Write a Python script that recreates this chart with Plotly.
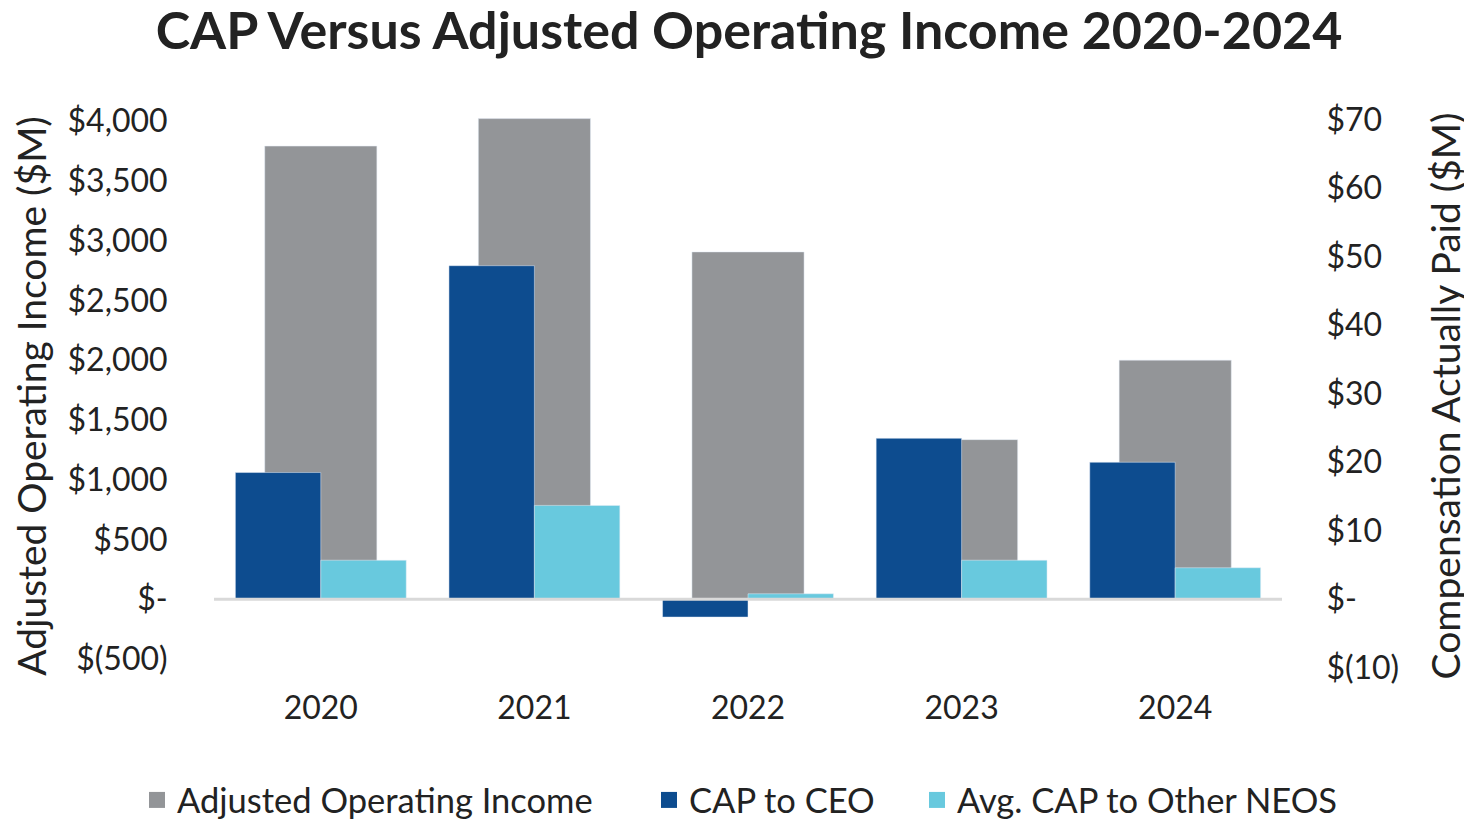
import plotly.graph_objects as go

years = ["2020", "2021", "2022", "2023", "2024"]
adj_operating_income = [3790, 4020, 2905, 1335, 2000]
cap_to_ceo = [18.5, 48.7, -2.6, 23.5, 20.0]
avg_cap_other_neos = [5.7, 13.7, 0.8, 5.7, 4.6]

left_tickvals = [-500, 0, 500, 1000, 1500, 2000, 2500, 3000, 3500, 4000]
left_ticktext = ["$(500)", "$-", "$500", "$1,000", "$1,500", "$2,000", "$2,500", "$3,000", "$3,500", "$4,000"]
right_tickvals = [-10, 0, 10, 20, 30, 40, 50, 60, 70]
right_ticktext = ["$(10)", "$-", "$10", "$20", "$30", "$40", "$50", "$60", "$70"]

GRAY = "#939598"
DARK = "#0D4C8F"
LIGHT = "#68C9DE"
FONT = "Lato"

W, H = 1464, 816  # page body has an 8px margin

fig = go.Figure()
fig.add_trace(go.Bar(x=years, y=adj_operating_income, name="Adjusted Operating Income",
                     marker_color=GRAY, width=0.525, offset=-0.2625, yaxis="y",
                     showlegend=False))
fig.add_trace(go.Bar(x=years, y=cap_to_ceo, name="CAP to CEO",
                     marker_color=DARK, width=0.4, offset=-0.4, yaxis="y2",
                     showlegend=False))
fig.add_trace(go.Bar(x=years, y=avg_cap_other_neos, name="Avg. CAP to Other NEOS",
                     marker_color=LIGHT, width=0.4, offset=0.0, yaxis="y2",
                     showlegend=False))

# legend entries, each in its own legend box
legend_items = [("Adjusted Operating Income", GRAY, "legend"),
                ("CAP to CEO", DARK, "legend2"),
                ("Avg. CAP to Other NEOS", LIGHT, "legend3")]
for name, col, lg in legend_items:
    fig.add_trace(go.Scatter(x=[None], y=[None], mode="markers", name=name,
                             marker=dict(symbol="square", size=20, color=col),
                             showlegend=True, yaxis="y", legend=lg))

fig.add_shape(type="line", xref="paper", yref="y", x0=0, x1=1, y0=0, y1=0,
              line=dict(color="#D9D9D9", width=3), layer="above")

def legend_box(xpx):
    return dict(orientation="h", xref="container", x=xpx / W, xanchor="left",
                yref="container", y=1 - 792 / H, yanchor="middle",
                font=dict(size=34.5, color="#222222"), itemsizing="trace",
                bgcolor="rgba(0,0,0,0)")

fig.update_layout(
    width=W, height=H,
    margin=dict(l=206, r=190, t=106.5, b=146.7, autoexpand=False),
    plot_bgcolor="white", paper_bgcolor="white",
    font=dict(family=FONT, size=32, color="#222222"),
    barmode="overlay",
    title=dict(text="<b>CAP Versus Adjusted Operating Income 2020-2024</b>",
               x=741 / W, xref="container", xanchor="center",
               y=1 - 23 / H, yanchor="middle", yref="container",
               font=dict(family=FONT, size=52, color="#222222")),
    xaxis=dict(type="category", range=[-0.5, 4.5], showline=False, showgrid=False,
               zeroline=False, ticks="outside", ticklen=3, tickcolor="rgba(0,0,0,0)",
               tickfont=dict(size=32), automargin=False),
    yaxis=dict(range=[-650, 4050], tickvals=left_tickvals, ticktext=left_ticktext,
               showgrid=False, zeroline=False, showline=False, automargin=False,
               ticks="outside", ticklen=39, tickcolor="rgba(0,0,0,0)",
               title=dict(text="Adjusted Operating Income ($M)", font=dict(size=39), standoff=22)),
    yaxis2=dict(range=[-11.35, 70.7], tickvals=right_tickvals, ticktext=right_ticktext,
                overlaying="y", side="right", showgrid=False, zeroline=False, showline=False,
                automargin=False,
                ticks="outside", ticklen=37, tickcolor="rgba(0,0,0,0)",
                title=dict(text="Compensation Actually Paid ($M)", font=dict(size=39), standoff=34)),
    legend=legend_box(129),
    legend2=legend_box(641),
    legend3=legend_box(909),
)

fig.write_html("out.html")
